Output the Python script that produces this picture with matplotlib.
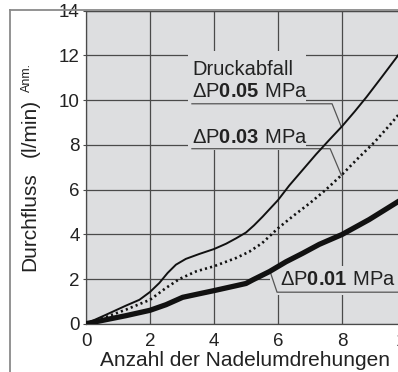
import matplotlib
matplotlib.use("Agg")
import matplotlib.pyplot as plt
from matplotlib.lines import Line2D
from matplotlib.patches import Rectangle
import numpy as np

plt.rcParams['font.family'] = ['Liberation Sans', 'DejaVu Sans']
plt.rcParams['mathtext.fontset'] = 'custom'
plt.rcParams['mathtext.rm'] = 'Liberation Sans'
plt.rcParams['mathtext.bf'] = 'Liberation Sans:bold'

# data
x_005 = [0, 0.625, 1.25, 1.67, 2.0, 2.29, 2.55, 2.81, 3.12, 3.54, 4.0, 4.38, 4.69,
         5.0, 5.25, 5.52, 6.0, 6.35, 6.77, 7.19, 7.6, 8.0, 8.4, 8.77, 9.25, 9.76, 10.5]
y_005 = [0, 0.4, 0.81, 1.07, 1.42, 1.82, 2.27, 2.64, 2.9, 3.12, 3.34, 3.58, 3.82,
         4.08, 4.4, 4.79, 5.53, 6.18, 6.88, 7.58, 8.22, 8.83, 9.5, 10.15, 11.05, 12.02, 13.5]
x_003 = [0, 0.625, 1.25, 2.0, 2.5, 2.92, 3.44, 4.0, 4.69, 5.1, 5.5, 6.0, 6.5, 7.0,
         7.5, 8.0, 8.5, 9.0, 9.5, 10.0, 10.5]
y_003 = [0, 0.3, 0.63, 1.07, 1.6, 2.0, 2.34, 2.57, 2.94, 3.22, 3.6, 4.27, 4.85, 5.4,
         6.0, 6.67, 7.4, 8.1, 8.9, 9.75, 10.6]
x_001 = [0, 0.625, 1.25, 2.0, 2.5, 3.02, 3.54, 4.0, 4.69, 5.0, 5.21, 5.73, 6.25,
         6.77, 7.29, 8.0, 8.85, 9.75, 10.5]
y_001 = [0, 0.18, 0.36, 0.6, 0.85, 1.18, 1.34, 1.48, 1.7, 1.8, 1.96, 2.33, 2.77,
         3.15, 3.55, 3.99, 4.66, 5.46, 6.1]

xticks = [0, 2, 4, 6, 8, 10]
yticks = [0, 2, 4, 6, 8, 10, 12, 14]
xlabel = "Anzahl der Nadelumdrehungen"
ylabel_main = "Durchfluss"
ylabel_unit = "(l/min)"
ylabel_note = "Anm."
label_title = "Druckabfall"
labels = [r"$\mathrm{ΔP}\mathbf{0.05}\ \mathrm{MPa}$",
          r"$\mathrm{ΔP}\mathbf{0.03}\ \mathrm{MPa}$",
          r"$\mathrm{ΔP}\mathbf{0.01}\ \mathrm{MPa}$"]

W, H = 398, 372
fig = plt.figure(figsize=(W / 100, H / 100), dpi=100)
bg = '#dddee0'
gridc = '#4a4a4a'

x0px, y0px = 86, 323.7
pxx, pxy = 32.0, 22.35
xmax = 10.5
ax = fig.add_axes([x0px / W, (H - y0px) / H, xmax * pxx / W, 14 * pxy / H])
ax.set_facecolor(bg)
ax.set_xlim(0, xmax)
ax.set_ylim(0, 14)
ax.set_xticks(xticks)
ax.set_yticks(yticks)
ax.tick_params(labelsize=13.5, length=2.5, width=0.8, color=gridc, colors='#222222')
ax.tick_params(axis='x', pad=7, length=0)
ax.tick_params(axis='y', pad=2)
for s in ax.spines.values():
    s.set_color(gridc)
    s.set_linewidth(0.9)
ax.grid(True, color=gridc, linewidth=0.9, zorder=1)
ax.set_axisbelow(True)

# masks behind label text
ax.add_patch(Rectangle((3.19, 7.76), 6.875 - 3.19, 12.2 - 7.76, facecolor=bg,
                       edgecolor='none', zorder=1.5))
ax.add_patch(Rectangle((5.75, 1.28), 12 - 5.75, 2.6 - 1.28, facecolor=bg,
                       edgecolor='none', zorder=1.5))

lc = '#111111'
ax.plot(x_005, y_005, color=lc, lw=1.4, zorder=3, solid_capstyle='round', solid_joinstyle='round')
ax.plot(x_003, y_003, color=lc, lw=1.9, ls=(0, (0.8, 1.2)), zorder=3)
ax.plot(x_001, y_001, color=lc, lw=3.8, zorder=3, solid_capstyle='round', solid_joinstyle='round')

tc = '#222222'
ax.text(3.31, 11.14, label_title, fontsize=14.5, color=tc, va='baseline', ha='left', zorder=4)
ax.text(3.31, 10.16, labels[0], fontsize=14.5, color=tc, va='baseline', ha='left', zorder=4)
ax.text(3.31, 8.10, labels[1], fontsize=14.5, color=tc, va='baseline', ha='left', zorder=4)
ax.text(6.06, 1.72, labels[2], fontsize=14.5, color=tc, va='baseline', ha='left', zorder=4)

leader = '#555555'
yc1 = np.interp(7.98, x_005, y_005)
ax.plot([3.31, 7.69, 7.98], [9.84, 9.84, yc1], color=leader, lw=0.9, zorder=2.5)
yc2 = np.interp(7.98, x_003, y_003)
ax.plot([3.31, 7.63, 7.98], [7.83, 7.83, yc2], color=leader, lw=0.9, zorder=2.5)
yc3 = np.interp(5.75, x_001, y_001)
ax.plot([12, 5.97, 5.75], [1.41, 1.41, yc3], color=leader, lw=0.9, zorder=2.5)

# outer frame
fc = '#8a8a8a'
fig.add_artist(Line2D([10 / W, 10 / W], [0, 1 - 10 / H], color=fc, lw=1.3, transform=fig.transFigure))
fig.add_artist(Line2D([10 / W, 1], [1 - 10 / H, 1 - 10 / H], color=fc, lw=1.3, transform=fig.transFigure))

fig.text(245 / W, (H - 366) / H, xlabel, fontsize=15, color=tc, ha='center', va='baseline')
fig.text(30 / W, 1 - 222 / H, ylabel_main, fontsize=15, color=tc, ha='center', va='center', rotation=90)
fig.text(30 / W, 1 - 128 / H, ylabel_unit, fontsize=15, color=tc, ha='center', va='center', rotation=90)
fig.text(27 / W, 1 - 78 / H, ylabel_note, fontsize=9, color=tc, ha='center', va='center', rotation=90)

fig.savefig("out.png", dpi=100, facecolor='white')
